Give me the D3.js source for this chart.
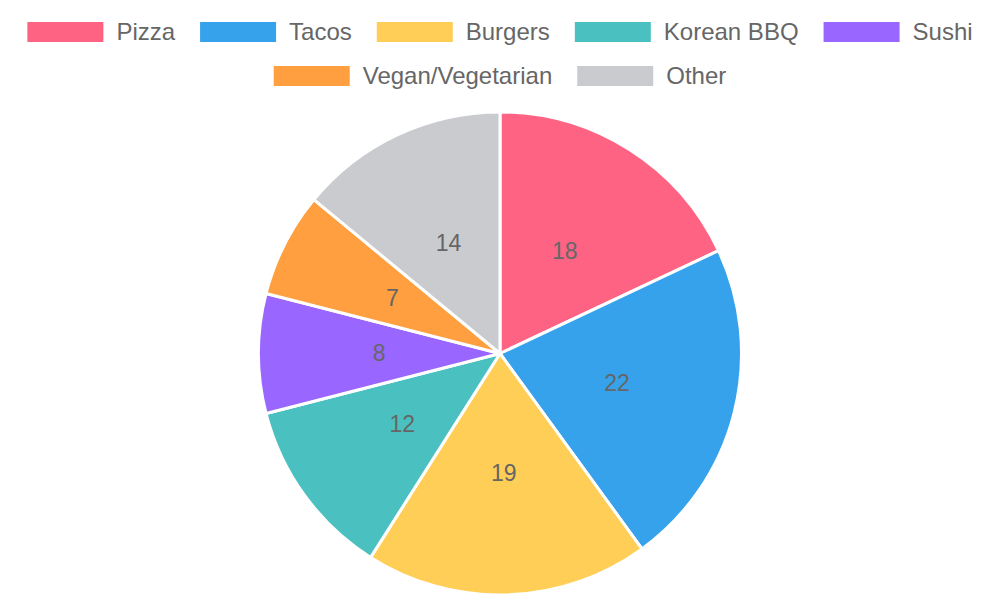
<!DOCTYPE html>
<html>
<head>
<meta charset="utf-8">
<script src="https://cdn.jsdelivr.net/npm/d3@7"></script>
<style>
  html, body { margin: 0; padding: 0; background: #fff; }
  svg { display: block; font-family: "Liberation Sans", Arial, sans-serif; }
</style>
</head>
<body>
<div id="chart"></div>
<script>
// Chart data
const categories = ["Pizza", "Tacos", "Burgers", "Korean BBQ", "Sushi", "Vegan/Vegetarian", "Other"];
const values = [18, 22, 19, 12, 8, 7, 14];
const colors = ["#FF6384", "#36A2EB", "#FFCE56", "#4BC0C0", "#9966FF", "#FF9F40", "#C9CBCF"];
const legendRows = [[0, 1, 2, 3, 4], [5, 6]];

const width = 1000, height = 600;
const cx = 500, cy = 353.5, radius = 241.5;

const svg = d3.select("#chart")
    .append("svg")
    .attr("width", width)
    .attr("height", height);

// Legend
const boxW = 76, boxH = 20, textGap = 13, itemGap = 25, fontSize = 24;
const measure = svg.append("text").attr("font-size", fontSize).style("visibility", "hidden");
function textWidth(s) {
    measure.text(s);
    return measure.node().getComputedTextLength();
}

const legend = svg.append("g");
legendRows.forEach((row, ri) => {
    const widths = row.map(i => boxW + textGap + textWidth(categories[i]));
    const total = d3.sum(widths) + itemGap * (row.length - 1);
    let x = (width - total) / 2;
    const yc = 32 + ri * 44;
    row.forEach((i, k) => {
        legend.append("rect")
            .attr("x", x).attr("y", yc - boxH / 2)
            .attr("width", boxW).attr("height", boxH)
            .attr("fill", colors[i]);
        legend.append("text")
            .attr("x", x + boxW + textGap)
            .attr("y", yc)
            .attr("dy", "0.35em")
            .attr("font-size", fontSize)
            .attr("fill", "#666")
            .text(categories[i]);
        x += widths[k] + itemGap;
    });
});
measure.remove();

// Pie
const pie = d3.pie().sort(null).value(d => d);
const arc = d3.arc().innerRadius(0).outerRadius(radius);
const labelArc = d3.arc().innerRadius(radius / 2).outerRadius(radius / 2);

const g = svg.append("g").attr("transform", `translate(${cx}, ${cy})`);
const slices = pie(values);

g.selectAll("path")
    .data(slices)
    .enter()
    .append("path")
    .attr("d", arc)
    .attr("fill", (d, i) => colors[i])
    .attr("stroke", "#fff")
    .attr("stroke-width", 3)
    .attr("stroke-linejoin", "round");

g.selectAll("text.label")
    .data(slices)
    .enter()
    .append("text")
    .attr("class", "label")
    .attr("transform", d => {
        const c = labelArc.centroid(d);
        return `translate(${c[0]}, ${c[1] - 1})`;
    })
    .attr("text-anchor", "middle")
    .attr("dy", "0.35em")
    .attr("font-size", 23)
    .attr("fill", "#666")
    .text(d => d.data);
</script>
</body>
</html>
